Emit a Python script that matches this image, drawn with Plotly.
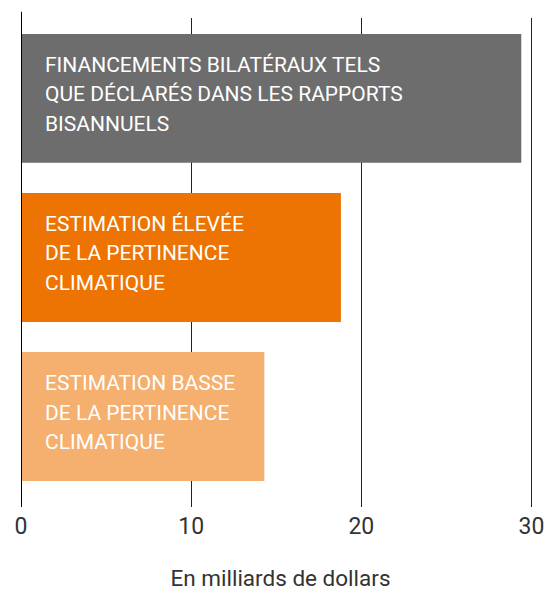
import plotly.graph_objects as go

categories = [
    "FINANCEMENTS BILATÉRAUX TELS<br>QUE DÉCLARÉS DANS LES RAPPORTS<br>BISANNUELS",
    "ESTIMATION ÉLEVÉE<br>DE LA PERTINENCE<br>CLIMATIQUE",
    "ESTIMATION BASSE<br>DE LA PERTINENCE<br>CLIMATIQUE",
]
values = [29.4, 18.8, 14.3]
colors = ["#6d6d6d", "#ed7402", "#f5af6f"]
tick_vals = [0, 10, 20, 30]
tick_text = ["0", "10", "20", "30"]
x_title = "En milliards de dollars"

FONT = "Roboto"

fig = go.Figure()
fig.add_trace(go.Bar(
    y=categories, x=values, orientation="h",
    marker=dict(color=colors, line=dict(width=0)),
    width=0.81, hoverinfo="skip",
))

line_shifts = [33.5, 4, -25.5]
for c in categories:
    for line, ys in zip(c.split("<br>"), line_shifts):
        fig.add_annotation(
            x=0, y=c, xref="x", yref="y", text=line, showarrow=False,
            xanchor="left", yanchor="middle", align="left", xshift=22, yshift=ys,
            font=dict(family=FONT, size=21, color="white"),
        )

fig.add_shape(type="line", xref="x", yref="paper", x0=0, x1=0, y0=0, y1=1.013,
              line=dict(color="black", width=2))

fig.update_layout(
    width=558, height=591,
    margin=dict(l=21, r=18, t=18, b=84),
    paper_bgcolor="white", plot_bgcolor="white",
    showlegend=False, bargap=0.19,
    font=dict(family=FONT, color="#333333"),
    xaxis=dict(
        range=[0, 30.5], tickvals=tick_vals, ticktext=tick_text,
        showgrid=True, gridcolor="#222222", gridwidth=1,
        zeroline=False, showline=False, ticks="", automargin=False,
        ticklabelstandoff=3,
        tickfont=dict(family=FONT, size=23, color="#333333"),
        title=dict(text=x_title, font=dict(family=FONT, size=22.5, color="#333333"), standoff=35),
    ),
    yaxis=dict(
        range=[2.569, -0.506], showticklabels=False, showgrid=False,
        zeroline=False, showline=False, ticks="", automargin=False,
    ),
)

fig.write_html(
    "out.html",
    config={"displayModeBar": False},
    post_script="document.body.style.margin='0';document.body.style.overflow='hidden';",
)
